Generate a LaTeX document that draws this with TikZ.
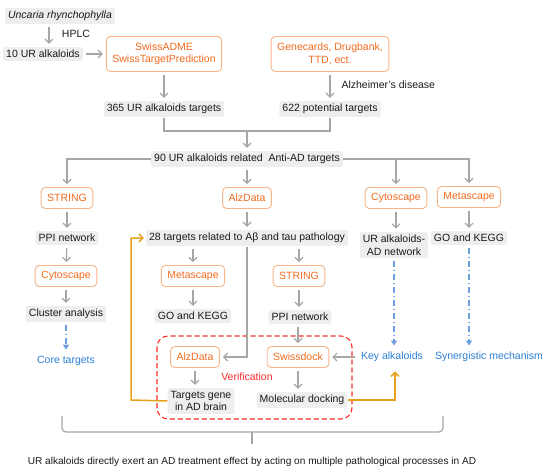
\documentclass[tikz,border=0pt]{standalone}
\usepackage{fontspec}
\setmainfont{Liberation Sans}
\usetikzlibrary{arrows.meta}
\definecolor{boxgrey}{HTML}{EEEEEE}
\definecolor{arrgrey}{HTML}{A6A6A6}
\definecolor{otext}{HTML}{F06A1E}
\definecolor{oline}{HTML}{F7B487}
\definecolor{btext}{HTML}{2C7FD2}
\definecolor{barrow}{HTML}{6E9FE0}
\definecolor{gold}{HTML}{E6A11C}
\definecolor{vred}{HTML}{FF2A2A}
\begin{document}
\begin{tikzpicture}[x=1pt,y=-1pt,
  every node/.style={font=\fontsize{10.5}{12.5}\selectfont, text=black!90},
  gbox/.style={fill=boxgrey, rounded corners=2pt, inner xsep=3pt, inner ysep=3pt, align=center},
  obox/.style={draw=oline, line width=0.9pt, rounded corners=4pt, text=otext, inner xsep=6pt, minimum height=21pt, align=center},
  btxt/.style={text=btext},
  garr/.style={draw=arrgrey, line width=1.2pt, -{Straight Barb[length=4pt,width=8pt]}, shorten >=3pt, shorten <=3pt},
  gline/.style={draw=arrgrey, line width=1.2pt},
  barr/.style={draw=barrow, line width=1.3pt, dash pattern=on 6pt off 3pt on 1pt off 3pt, -{Triangle[length=5pt,width=6pt]}, shorten >=3pt, shorten <=3pt},
  oarr/.style={draw=gold, line width=1.5pt, -{Straight Barb[length=4pt,width=8pt]}, shorten >=2pt},
]
\useasboundingbox (0,0) rectangle (550,471);
% top section
\node[gbox] (n1) at (60,16) {\itshape Uncaria rhynchophylla};
\node[gbox] (n2) at (43,54) {10 UR alkaloids};
\node (hplc) at (76,34) {HPLC};
\node[obox, minimum height=35pt] (swiss) at (164,54) {SwissADME\\SwissTargetPrediction};
\node[gbox] (t365) at (164,109) {365 UR alkaloids targets};
\node[obox, minimum height=35pt] (gene) at (330,54) {Genecards, Drugbank,\\TTD, ect.};
\node[anchor=west] (ad) at (338,85) {Alzheimer's disease};
\node[gbox] (t622) at (330,109) {622 potential targets};
\coordinate (m) at (247,131);
\node[gbox] (t90) at (247,159) {90 UR alkaloids related\ \ Anti-AD targets};
% second row
\node[obox] (string1) at (67,198) {STRING};
\node[obox] (alz1) at (247,198) {AlzData};
\node[obox] (cyto1) at (396,198) {Cytoscape};
\node[obox] (meta1) at (469,197) {Metascape};
\node[gbox] (ppi1) at (67,238) {PPI network};
\node[gbox] (t28) at (247,238) {28 targets related to Aβ and tau pathology};
\node[gbox] (urad) at (394,245) {UR alkaloids-\\AD network};
\node[gbox] (go1) at (469,238) {GO and KEGG};
\node[obox] (cyto2) at (66,276) {Cytoscape};
\node[gbox] (clus) at (66,314) {Cluster analysis};
\node[btxt] (core) at (66,361) {Core targets};
\node[obox] (meta2) at (193,276) {Metascape};
\node[gbox] (go2) at (193,316) {GO and KEGG};
\node[obox] (string2) at (299,276) {STRING};
\node[gbox] (ppi2) at (300,317) {PPI network};
\node[obox] (alz2) at (195,357) {AlzData};
\node[obox] (swd) at (298,357) {Swissdock};
\node[btxt] (key) at (392,357) {Key alkaloids};
\node[btxt] (syn) at (489,357) {Synergistic mechanism};
\node[text=vred] (verif) at (247,377) {Verification};
\node[gbox] (tgene) at (201,401) {Targets gene\\in AD brain};
\node[gbox] (mol) at (302,400) {Molecular docking};
\node[font=\fontsize{10.1}{12}\selectfont] (final) at (252,462) {UR alkaloids directly exert an AD treatment effect by acting on multiple pathological processes in AD};
\coordinate (ol) at (131,400);
% verification frame
\draw[vred, line width=1.1pt, dash pattern=on 5pt off 3pt, rounded corners=11pt] (157,336) rectangle (352,419);
% connectors
\draw[garr] ([xshift=-11pt]n1.south) -- ([xshift=-11pt]n1.south |- n2.north);
\draw[garr] (n2.east) -- (swiss.west);
\draw[garr] (swiss) -- (t365);
\draw[garr] (gene) -- (t622);
\draw[gline, shorten <=1pt] (t365.south) |- (m);
\draw[gline, shorten <=1pt] (t622.south) |- (m);
\draw[garr, shorten <=0pt] (m) -- (t90.north);
\draw[garr, shorten <=0pt] (t90.west) -| (string1.north);
\draw[garr, shorten <=0pt] (t90.east) -| (cyto1.north);
\draw[garr, shorten <=0pt] (t90.east) -| (meta1.north);
\draw[garr] (t90) -- (alz1);
\draw[garr] (alz1) -- (t28);
\draw[garr] (string1) -- (ppi1);
\draw[garr] (ppi1) -- (cyto2);
\draw[garr] (cyto2) -- (clus);
\draw[barr] (clus) -- (core);
\draw[garr] (cyto1) -- (cyto1.south |- urad.north);
\draw[barr] (urad.south) -- (urad.south |- key.north);
\draw[garr] (meta1) -- (go1);
\draw[barr] (go1.south) -- (go1.south |- syn.north);
\draw[garr] (t28.south -| meta2) -- (meta2.north);
\draw[garr] (meta2) -- (go2);
\draw[garr] (t28.south -| string2) -- (string2.north);
\draw[garr] (string2) -- (string2.south |- ppi2.north);
\draw[garr] (ppi2.south -| swd) -- (swd.north);
\draw[garr] (swd.south) -- (swd.south |- mol.north);
\draw[garr, shorten <=1pt] (t28.south) |- (alz2.east);
\draw[garr] (key.west) -- (swd.east);
\draw[garr] (alz2.south) -- (alz2.south |- tgene.north);
\draw[oarr] (tgene.west) -- (ol) |- (t28.west);
\draw[oarr, shorten >=6pt] (mol.east) -| ([xshift=3pt]key.south);
% brace
\draw[gline, rounded corners=4pt] (62,416) -- (62,432) -- (443,432) -- (443,416);
\draw[gline, shorten >=10pt] (252,432) -- (final.north);
\end{tikzpicture}
\end{document}
